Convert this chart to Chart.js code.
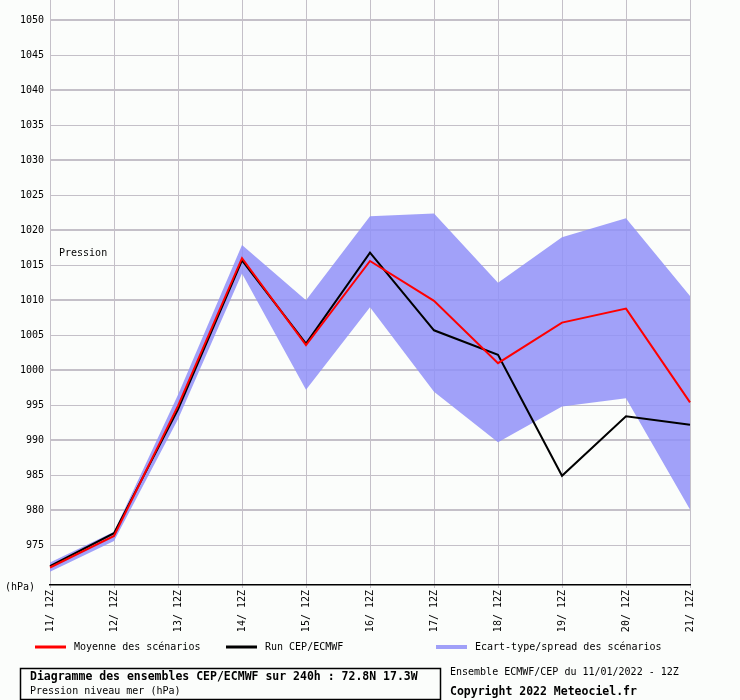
<!DOCTYPE html>
<html>
<head>
<meta charset="utf-8">
<script src="https://cdn.jsdelivr.net/npm/chart.js@4"></script>
<style>
  html, body { margin: 0; padding: 0; background: #fbfdfb; }
  #wrap { width: 740px; height: 700px; }
</style>
</head>
<body>
<div id="wrap"><canvas id="ensChart" width="740" height="700"></canvas></div>
<script>
const echeances = ['11/ 12Z', '12/ 12Z', '13/ 12Z', '14/ 12Z', '15/ 12Z', '16/ 12Z', '17/ 12Z', '18/ 12Z', '19/ 12Z', '20/ 12Z', '21/ 12Z'];
const moyenne = [971.8, 976.3, 994.9, 1016.0, 1003.6, 1015.6, 1009.9, 1001.0, 1006.8, 1008.8, 995.4];
const runCep = [972.0, 976.7, 994.4, 1015.7, 1003.8, 1016.8, 1005.7, 1002.2, 984.9, 993.4, 992.2];
const ecartHaut = [972.5, 976.9, 996.5, 1017.9, 1010.0, 1022.0, 1022.4, 1012.5, 1019.0, 1021.7, 1010.6];
const ecartBas = [971.2, 975.6, 993.0, 1013.8, 997.2, 1009.0, 996.9, 989.7, 994.8, 996.0, 980.1];
const yTicks = [975, 980, 985, 990, 995, 1000, 1005, 1010, 1015, 1020, 1025, 1030, 1035, 1040, 1045, 1050];

const MONO = '"DejaVu Sans Mono", monospace';
const GRID = '#c4c0c8';

// fond + textes hors graphique
const decor = {
    id: 'decor',
    beforeDraw(chart) {
        const ctx = chart.ctx;
        ctx.save();
        ctx.fillStyle = '#fbfdfb';
        ctx.fillRect(0, 0, chart.width, chart.height);
        ctx.restore();
    },
    afterDraw(chart) {
        const ctx = chart.ctx;
        ctx.save();
        ctx.fillStyle = '#000';
        ctx.textBaseline = 'middle';
        ctx.font = '10px ' + MONO;
        ctx.fillText('(hPa)', 5, 587);
        ctx.fillText('Pression', 59, 253);

        // légende
        const items = [
            { x: 35, color: '#ff0000', w: 3, text: 'Moyenne des scénarios' },
            { x: 226, color: '#000000', w: 3, text: 'Run CEP/ECMWF' },
            { x: 436, color: '#a0a0f8', w: 4, text: 'Ecart-type/spread des scénarios' }
        ];
        items.forEach(it => {
            ctx.fillStyle = it.color;
            ctx.fillRect(it.x, 647 - it.w / 2, 31, it.w);
            ctx.fillStyle = '#000';
            ctx.fillText(it.text, it.x + 39, 647);
        });

        // cadre titre
        ctx.strokeStyle = '#000';
        ctx.lineWidth = 1.5;
        ctx.strokeRect(20.5, 668.5, 420, 31);
        ctx.font = 'bold 11.5px ' + MONO;
        ctx.fillText('Diagramme des ensembles CEP/ECMWF sur 240h : 72.8N 17.3W', 30, 677);
        ctx.font = '10px ' + MONO;
        ctx.fillText('Pression niveau mer (hPa)', 30, 691);
        ctx.fillText('Ensemble ECMWF/CEP du 11/01/2022 - 12Z', 450, 672);
        ctx.font = 'bold 11.5px ' + MONO;
        ctx.fillText('Copyright 2022 Meteociel.fr', 450, 692);
        ctx.restore();
    }
};

const ctx = document.getElementById('ensChart').getContext('2d');
const chart = new Chart(ctx, {
    type: 'line',
    data: {
        labels: echeances,
        datasets: [
            { label: 'Moyenne des scénarios', data: moyenne, borderColor: '#ff0000', borderWidth: 2, pointRadius: 0, tension: 0, fill: false },
            { label: 'Run CEP/ECMWF', data: runCep, borderColor: '#000000', borderWidth: 2, pointRadius: 0, tension: 0, fill: false },
            { label: 'Ecart haut', data: ecartHaut, borderWidth: 0, borderColor: 'rgba(0,0,0,0)', pointRadius: 0, tension: 0, fill: '+1', backgroundColor: 'rgba(144,144,248,0.85)' },
            { label: 'Ecart bas', data: ecartBas, borderWidth: 0, borderColor: 'rgba(0,0,0,0)', pointRadius: 0, tension: 0, fill: false }
        ]
    },
    options: {
        responsive: false,
        animation: false,
        layout: { padding: { left: 0, right: 50, top: 0, bottom: 0 } },
        plugins: {
            legend: { display: false },
            tooltip: { enabled: false }
        },
        scales: {
            x: {
                offset: false,
                afterFit: s => { s.height = 115; s.paddingLeft = 0; s.paddingRight = 0; },
                grid: { color: GRID, lineWidth: 1, tickLength: 3, tickColor: GRID },
                border: { display: true, color: '#000', width: 1.5 },
                ticks: {
                    autoSkip: false, maxRotation: 90, minRotation: 90, padding: 2,
                    color: '#000', font: { family: MONO, size: 10 }
                }
            },
            y: {
                min: 969.3,
                max: 1052.9,
                afterFit: s => { s.width = 50; s.paddingTop = 0; s.paddingBottom = 0; },
                afterBuildTicks: s => { s.ticks = yTicks.map(v => ({ value: v })); },
                border: { display: false },
                grid: {
                    drawTicks: false,
                    color: GRID,
                    lineWidth: c => (c.tick && c.tick.value % 10 === 0) ? 2 : 1
                },
                ticks: {
                    padding: 6, color: '#000', font: { family: MONO, size: 10 },
                    callback: v => v
                }
            }
        }
    },
    plugins: [decor]
});
</script>
</body>
</html>
